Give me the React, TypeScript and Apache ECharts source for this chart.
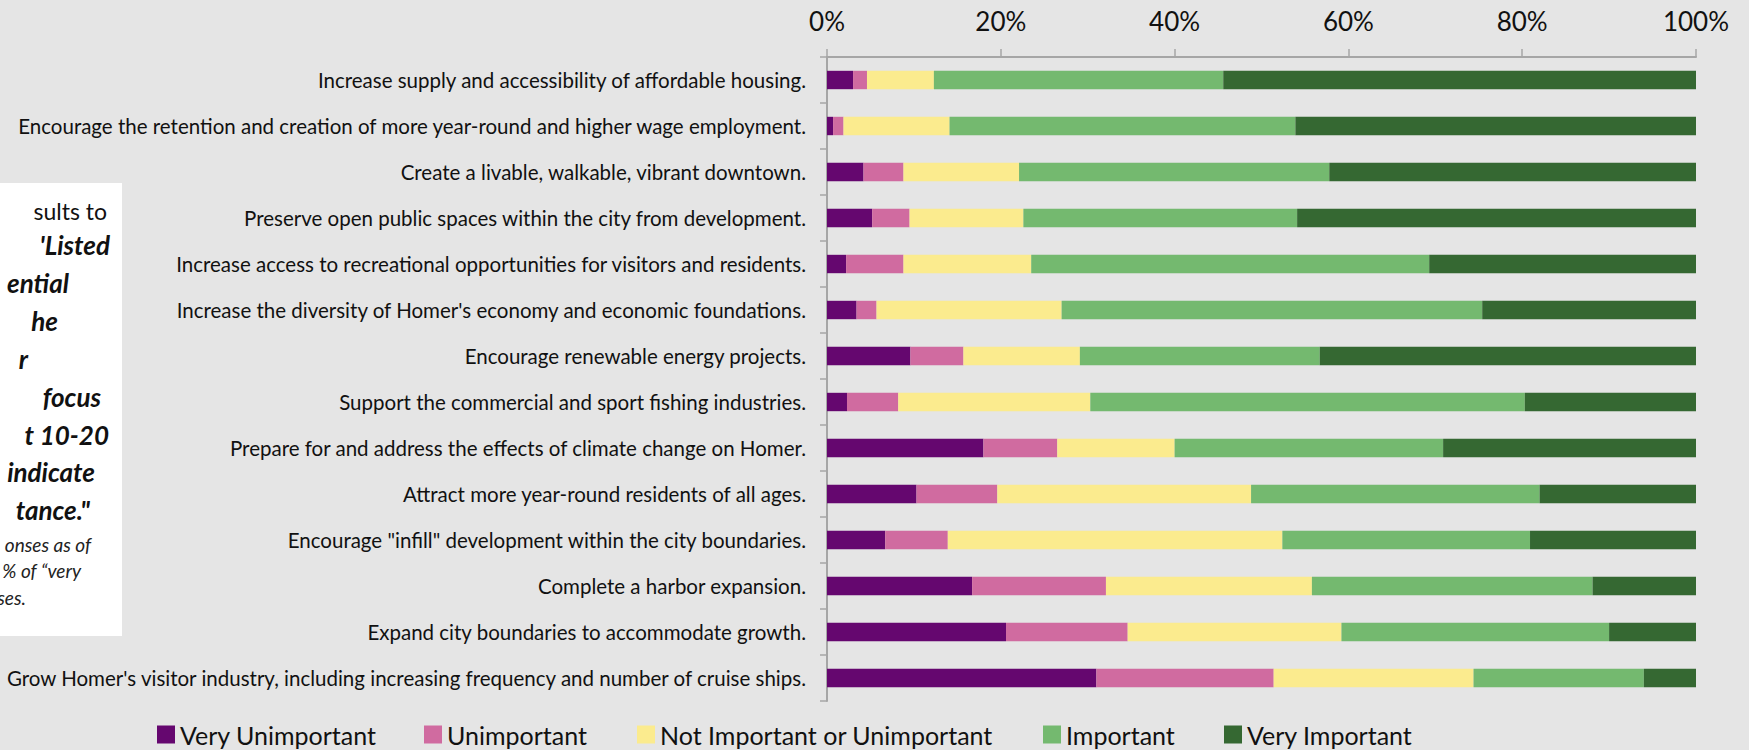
import React, { useEffect, useRef } from "react";
import * as echarts from "echarts";

const categories = [
  "Increase supply and accessibility of affordable housing.",
  "Encourage the retention and creation of more year-round and higher wage employment.",
  "Create a livable, walkable, vibrant downtown.",
  "Preserve open public spaces within the city from development.",
  "Increase access to recreational opportunities for visitors and residents.",
  "Increase the diversity of Homer's economy and economic foundations.",
  "Encourage renewable energy projects.",
  "Support the commercial and sport fishing industries.",
  "Prepare for and address the effects of climate change on Homer.",
  "Attract more year-round residents of all ages.",
  "Encourage \"infill\" development within the city boundaries.",
  "Complete a harbor expansion.",
  "Expand city boundaries to accommodate growth.",
  "Grow Homer's visitor industry, including increasing frequency and number of cruise ships.",
];

const veryUnimportant = [3.0, 0.7, 4.2, 5.2, 2.2, 3.4, 9.6, 2.3, 18.0, 10.3, 6.7, 16.7, 20.6, 31.0];
const unimportant = [1.6, 1.2, 4.6, 4.3, 6.6, 2.3, 6.1, 5.9, 8.5, 9.3, 7.2, 15.4, 14.0, 20.4];
const neutral = [7.7, 12.2, 13.3, 13.1, 14.7, 21.3, 13.4, 22.1, 13.5, 29.2, 38.5, 23.7, 24.6, 23.0];
const important = [33.3, 39.8, 35.7, 31.5, 45.8, 48.4, 27.6, 50.0, 30.9, 33.2, 28.5, 32.3, 30.8, 19.6];
const veryImportant = [54.4, 46.1, 42.2, 45.9, 30.7, 24.6, 43.3, 19.7, 29.1, 18.0, 19.1, 11.9, 10.0, 6.0];

const seriesNames = [
  "Very Unimportant",
  "Unimportant",
  "Not Important or Unimportant",
  "Important",
  "Very Important",
];
const seriesColors = ["#65076f", "#d06ba0", "#fbeb8e", "#74b96f", "#356832"];
const seriesData = [veryUnimportant, unimportant, neutral, important, veryImportant];
const legendLeft = [157, 424, 637, 1043, 1224];

const xTicks = [0, 20, 40, 60, 80, 100];

const boxLines = [
  { t: "sults to", r: 107, y: 211, k: "regular" },
  { t: "'Listed", r: 110, y: 245, k: "bold" },
  { t: "ential", r: 69, y: 283, k: "bold" },
  { t: "he", r: 58, y: 321, k: "bold" },
  { t: "r", r: 28, y: 359, k: "bold" },
  { t: "focus", r: 101, y: 397, k: "bold" },
  { t: "t 10-20", r: 109, y: 435, k: "bold" },
  { t: "indicate", r: 95, y: 472, k: "bold" },
  { t: "tance.\"", r: 90, y: 510, k: "bold" },
  { t: "onses as of", r: 91, y: 544, k: "small" },
  { t: "% of \u201cvery", r: 81, y: 570, k: "small" },
  { t: "ses.", r: 26, y: 597, k: "small" },
];

const FONT = "Lato, 'Open Sans', sans-serif";

export default function App() {
  const ref = useRef<HTMLDivElement>(null);
  useEffect(() => {
    if (!ref.current) return;
    const chart = echarts.init(ref.current, null, { renderer: "svg" });
    const fontFor = (k: string) =>
      k === "regular"
        ? `normal 400 23px ${FONT}`
        : k === "bold"
        ? `italic 700 26px ${FONT}`
        : `italic 400 19px ${FONT}`;
    chart.setOption({
      animation: false,
      backgroundColor: "#e5e5e5",
      textStyle: { fontFamily: FONT },
      grid: { left: 827, right: 53, top: 57, bottom: 49, containLabel: false },
      legend: seriesNames.map((n, i) => ({
        data: [n],
        left: legendLeft[i],
        top: 722,
        padding: 0,
        itemWidth: 18,
        itemHeight: 18,
        itemGap: 0,
        icon: "rect",
        textStyle: { fontSize: 25, color: "#111", fontFamily: FONT },
      })),
      xAxis: {
        type: "value",
        position: "top",
        min: xTicks[0],
        max: xTicks[xTicks.length - 1],
        interval: xTicks[1] - xTicks[0],
        axisLine: { show: true, lineStyle: { color: "#a6a6a6", width: 2 } },
        axisTick: { show: true, length: 8, lineStyle: { color: "#a6a6a6", width: 1.5 } },
        splitLine: { show: false },
        axisLabel: {
          formatter: "{value}%",
          fontSize: 26,
          color: "#111",
          margin: 23,
          fontFamily: FONT,
        },
      },
      yAxis: {
        type: "category",
        inverse: true,
        data: categories,
        axisLine: { show: true, lineStyle: { color: "#a6a6a6", width: 2 } },
        axisTick: { show: true, length: 7, lineStyle: { color: "#a6a6a6", width: 1.5 } },
        axisLabel: { fontSize: 20.5, color: "#111", margin: 21, fontFamily: FONT },
      },
      series: seriesNames.map((n, i) => ({
        name: n,
        type: "bar",
        stack: "total",
        barWidth: "40%",
        data: seriesData[i],
        itemStyle: { color: seriesColors[i] },
      })),
      graphic: [
        {
          type: "rect",
          shape: { x: -10, y: 183, width: 132, height: 453 },
          style: { fill: "#ffffff" },
          z: 10,
        },
        ...boxLines.map((l) => ({
          type: "text",
          x: l.r,
          y: l.y,
          z: 11,
          style: {
            text: l.t,
            font: fontFor(l.k),
            fill: l.k === "small" ? "#222" : "#111",
            align: "right",
            verticalAlign: "middle",
          },
        })),
      ],
    });
    return () => chart.dispose();
  }, []);
  return (
    <div
      ref={ref}
      style={{ position: "fixed", left: 0, top: 0, width: 1749, height: 750 }}
    />
  );
}
